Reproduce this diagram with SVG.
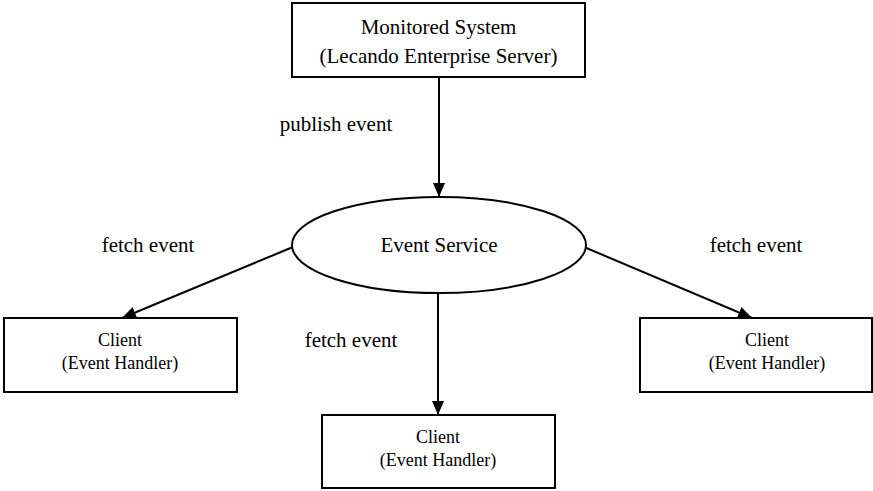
<svg xmlns="http://www.w3.org/2000/svg" width="873" height="491" viewBox="0 0 873 491">
  <style>
    .box { fill: #fff; stroke: #000; stroke-width: 2; }
    .edge { fill: none; stroke: #000; stroke-width: 2; }
    text { font-family: "Liberation Serif", "Times New Roman", serif; fill: #000; text-anchor: middle; }
    .big { font-size: 21px; }
    .small { font-size: 18px; }
  </style>
  <defs>
    <marker id="arrow" markerUnits="userSpaceOnUse" markerWidth="14" markerHeight="14" viewBox="0 0 14 14" refX="14" refY="7" orient="auto">
      <path d="M0,1 L14,7 L0,13 Z" fill="#000"/>
    </marker>
  </defs>
  <rect width="873" height="491" fill="#fff"/>

  <g id="connectors">
    <line class="edge" x1="439" y1="77" x2="439" y2="197" marker-end="url(#arrow)"/>
    <line class="edge" x1="293" y1="247" x2="122" y2="318" marker-end="url(#arrow)"/>
    <line class="edge" x1="584" y1="247" x2="752" y2="318" marker-end="url(#arrow)"/>
    <line class="edge" x1="438" y1="293" x2="438" y2="415" marker-end="url(#arrow)"/>
    <text class="big" x="336" y="131">publish event</text>
    <text class="big" x="148" y="252">fetch event</text>
    <text class="big" x="756" y="252">fetch event</text>
    <text class="big" x="351" y="347">fetch event</text>
  </g>

  <g id="monitored-system">
    <rect class="box" x="292" y="3" width="293" height="74"/>
    <text class="big" x="438.5" y="34">Monitored System</text>
    <text class="big" x="438.5" y="63">(Lecando Enterprise Server)</text>
  </g>

  <g id="event-service">
    <ellipse class="box" cx="439" cy="245" rx="147" ry="48"/>
    <text class="big" x="439" y="252">Event Service</text>
  </g>

  <g id="client-left">
    <rect class="box" x="4" y="318" width="233" height="74"/>
    <text class="small" x="120" y="346">Client</text>
    <text class="small" x="120" y="369">(Event Handler)</text>
  </g>

  <g id="client-right">
    <rect class="box" x="640" y="318" width="232" height="74"/>
    <text class="small" x="767" y="346">Client</text>
    <text class="small" x="767" y="369">(Event Handler)</text>
  </g>

  <g id="client-bottom">
    <rect class="box" x="322" y="415" width="233" height="73"/>
    <text class="small" x="438" y="443">Client</text>
    <text class="small" x="438" y="466">(Event Handler)</text>
  </g>
</svg>
